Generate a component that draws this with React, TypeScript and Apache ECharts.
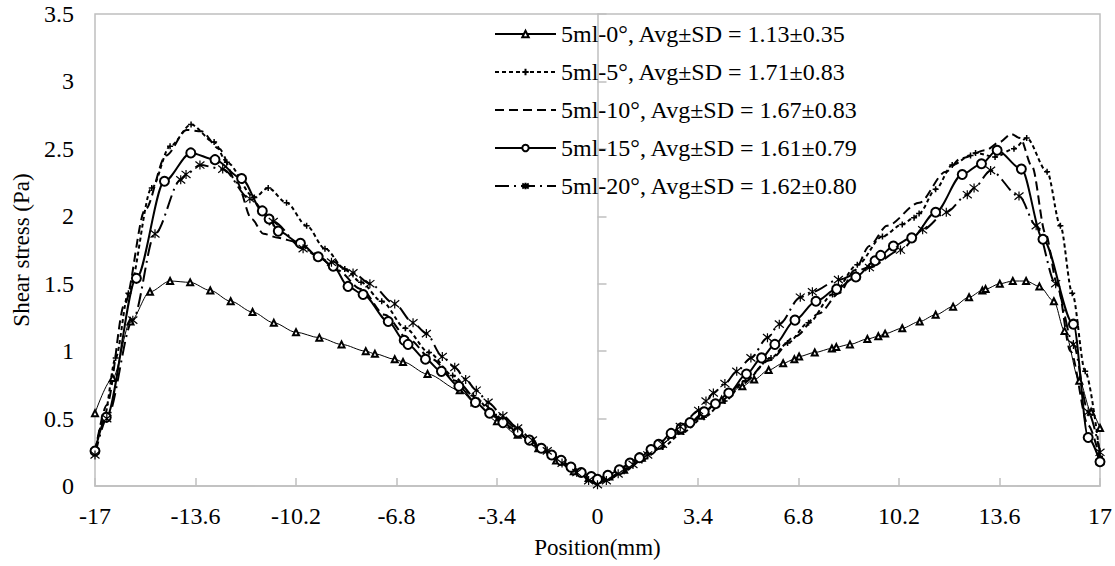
import React, { useEffect, useRef } from "react";
import * as echarts from "echarts";

const SERIES_NAMES = [
  "5ml-0°, Avg±SD = 1.13±0.35",
  "5ml-5°, Avg±SD = 1.71±0.83",
  "5ml-10°, Avg±SD = 1.67±0.83",
  "5ml-15°, Avg±SD = 1.61±0.79",
  "5ml-20°, Avg±SD = 1.62±0.80",
];

const X_TICKS = [-17, -13.6, -10.2, -6.8, -3.4, 0, 3.4, 6.8, 10.2, 13.6, 17];

// 5ml-0°
const X0 = [-17, -16.4, -15.8, -15.14, -14.46, -13.78, -13.1, -12.41, -11.67, -10.95, -10.2, -9.41, -8.66, -7.84, -7.53, -6.86, -6.58, -5.75, -4.66, -4.16, -3.4, -2.7, -2.0, -1.4, -0.8, -0.3, 0, 0.4, 0.9, 1.5, 2.1, 2.8, 3.5, 4.2, 4.9, 5.3, 5.79, 6.28, 6.66, 6.82, 7.35, 7.93, 8.08, 8.54, 9.13, 9.5, 9.73, 10.31, 10.9, 11.44, 12.03, 12.57, 13.02, 13.13, 13.61, 14.05, 14.5, 14.95, 15.44, 15.8, 16.3, 16.7, 17];
const Y0 = [0.54, 0.8, 1.22, 1.44, 1.52, 1.51, 1.45, 1.37, 1.29, 1.21, 1.14, 1.1, 1.05, 1.0, 0.98, 0.94, 0.92, 0.83, 0.71, 0.62, 0.48, 0.38, 0.28, 0.19, 0.11, 0.06, 0.05, 0.07, 0.12, 0.21, 0.3, 0.41, 0.52, 0.64, 0.74, 0.79, 0.86, 0.91, 0.94, 0.96, 0.99, 1.02, 1.03, 1.05, 1.09, 1.11, 1.13, 1.17, 1.22, 1.27, 1.33, 1.4, 1.45, 1.46, 1.5, 1.52, 1.52, 1.48, 1.37, 1.15, 0.78, 0.55, 0.43];

// 5ml-5°
const X5 = [-17, -16.7, -16.3, -15.87, -15.08, -14.46, -13.75, -12.97, -12.54, -11.61, -11.14, -10.52, -9.84, -9.22, -8.55, -8.0, -7.3, -6.5, -5.7, -4.9, -4.2, -3.5, -2.8, -2.1, -1.4, -0.8, -0.3, 0, 0.4, 0.9, 1.5, 2.2, 2.9, 3.6, 4.3, 5.0, 5.87, 6.43, 7.14, 7.95, 8.79, 9.64, 10.31, 10.71, 10.88, 11.44, 12.0, 12.62, 12.79, 13.45, 14.09, 14.52, 15.21, 15.66, 16.06, 16.5, 17];
const Y5 = [0.25, 0.5, 0.95, 1.43, 2.21, 2.52, 2.68, 2.55, 2.4, 2.14, 2.21, 2.1, 1.93, 1.76, 1.61, 1.51, 1.37, 1.17, 0.99, 0.82, 0.67, 0.53, 0.41, 0.3, 0.2, 0.12, 0.06, 0.03, 0.06, 0.11, 0.19, 0.29, 0.4, 0.51, 0.63, 0.78, 0.95, 1.06, 1.21, 1.42, 1.64, 1.85, 1.94, 1.99, 2.02, 2.2, 2.38, 2.45, 2.47, 2.44, 2.5, 2.58, 2.33, 1.93, 1.43, 0.85, 0.22];

// 5ml-10°
const X10 = [-17, -16.6, -16.0, -15.3, -14.6, -13.9, -13.4, -12.8, -12.2, -11.7, -11.3, -10.8, -10.2, -9.5, -8.8, -8.0, -7.2, -6.4, -5.6, -4.8, -4.0, -3.2, -2.4, -1.6, -0.9, -0.3, 0, 0.4, 1.0, 1.7, 2.5, 3.3, 4.1, 4.9, 5.8, 6.7, 7.5, 8.18, 8.7, 9.2, 9.8, 10.88, 11.78, 12.3, 13.13, 13.6, 14.0, 14.3, 14.7, 15.16, 15.55, 16.0, 16.6, 17];
const Y10 = [0.25, 0.6, 1.35, 2.05, 2.45, 2.64, 2.63, 2.5, 2.25, 1.98, 1.87, 1.84, 1.81, 1.71, 1.6, 1.46, 1.27, 1.09, 0.94, 0.78, 0.63, 0.49, 0.36, 0.24, 0.13, 0.05, 0.02, 0.05, 0.13, 0.23, 0.36, 0.49, 0.62, 0.76, 0.93, 1.11, 1.28, 1.43, 1.6, 1.78, 1.93, 2.1, 2.33, 2.43, 2.49, 2.55, 2.61, 2.58, 2.37, 1.87, 1.5, 1.0, 0.45, 0.2];

// 5ml-15°
const X15 = [-17, -16.62, -15.6, -14.65, -13.76, -12.94, -12.04, -11.34, -11.11, -10.8, -10.05, -9.45, -8.94, -8.44, -7.93, -7.08, -6.54, -6.41, -5.82, -5.28, -4.69, -4.13, -3.65, -3.2, -2.69, -2.3, -1.9, -1.55, -1.23, -0.9, -0.55, -0.21, 0, 0.35, 0.74, 1.1, 1.42, 1.81, 2.07, 2.49, 2.83, 3.13, 3.61, 3.99, 4.44, 5.04, 5.55, 6.0, 6.68, 7.39, 8.09, 8.74, 9.39, 9.58, 10.01, 10.63, 11.44, 12.34, 12.99, 13.52, 14.34, 15.07, 16.1, 16.6, 17];
const Y15 = [0.26, 0.51, 1.54, 2.26, 2.47, 2.42, 2.28, 2.04, 1.98, 1.89, 1.8, 1.7, 1.63, 1.48, 1.42, 1.22, 1.08, 1.05, 0.94, 0.85, 0.74, 0.62, 0.54, 0.47, 0.4, 0.34, 0.28, 0.23, 0.19, 0.14, 0.1, 0.07, 0.05, 0.08, 0.12, 0.17, 0.21, 0.27, 0.31, 0.39, 0.43, 0.47, 0.55, 0.61, 0.69, 0.83, 0.95, 1.05, 1.23, 1.37, 1.46, 1.55, 1.67, 1.71, 1.78, 1.84, 2.03, 2.31, 2.39, 2.49, 2.35, 1.83, 1.2, 0.36, 0.18];

// 5ml-20°
const X20 = [-17, -16.6, -15.72, -14.97, -14.1, -13.92, -13.45, -12.68, -11.76, -10.97, -9.96, -9.0, -8.27, -7.7, -6.86, -6.24, -5.79, -5.25, -4.83, -4.46, -4.1, -3.7, -3.2, -2.7, -2.2, -1.7, -1.2, -0.7, -0.3, 0, 0.3, 0.7, 1.2, 1.7, 2.2, 2.8, 3.42, 3.67, 3.92, 4.31, 4.71, 5.19, 5.75, 6.15, 6.86, 7.27, 8.15, 9.2, 10.25, 11.0, 11.8, 12.51, 12.74, 13.3, 14.26, 14.84, 15.5, 16.1, 16.6, 17];
const Y20 = [0.23, 0.5, 1.23, 1.87, 2.27, 2.31, 2.38, 2.35, 2.13, 1.96, 1.76, 1.66, 1.58, 1.5, 1.35, 1.21, 1.13, 0.96, 0.88, 0.79, 0.71, 0.62, 0.52, 0.43, 0.34, 0.26, 0.17, 0.1, 0.04, 0.01, 0.04, 0.09, 0.16, 0.23, 0.31, 0.44, 0.56, 0.63, 0.69, 0.76, 0.85, 0.95, 1.1, 1.2, 1.4, 1.44, 1.53, 1.62, 1.75, 1.9, 2.03, 2.16, 2.21, 2.34, 2.15, 1.93, 1.5, 1.05, 0.55, 0.25];

const FONT = "Liberation Serif";
const AXIS_GRAY = "#bfbfbf";
const PLUS = "path://M0,5L10,5M5,0L5,10";
const ASTER = "path://M5,0L5,10M1,1L9,9M9,1L1,9";

const zip = (xs: number[], ys: number[]) => xs.map((x, i) => [x, ys[i]]);

export default function App() {
  const ref = useRef<HTMLDivElement>(null);
  useEffect(() => {
    if (!ref.current) return;
    const chart = echarts.init(ref.current, null, { renderer: "svg" });
    const base = {
      type: "line",
      smooth: 0.3,
      smoothMonotone: "x",
      showAllSymbol: true,
      z: 2,
    };
    chart.setOption({
      animation: false,
      backgroundColor: "#fff",
      textStyle: { fontFamily: FONT, color: "#000" },
      grid: {
        left: 95,
        right: 12,
        top: 14,
        bottom: 80,
        show: true,
        borderColor: AXIS_GRAY,
        borderWidth: 1.5,
      },
      legend: {
        orient: "vertical",
        left: 489,
        top: 16,
        itemWidth: 61,
        itemHeight: 8,
        itemGap: 12,
        textStyle: { fontFamily: FONT, fontSize: 24, color: "#000", lineHeight: 26 },
        data: [
          { name: SERIES_NAMES[0] },
          { name: SERIES_NAMES[1] },
          {
            name: SERIES_NAMES[2],
            itemStyle: { color: "rgba(0,0,0,0)", borderColor: "rgba(0,0,0,0)", borderWidth: 0 },
          },
          { name: SERIES_NAMES[3] },
          { name: SERIES_NAMES[4] },
        ],
      },
      xAxis: {
        type: "value",
        min: -17,
        max: 17,
        interval: 3.4,
        name: "Position(mm)",
        nameLocation: "middle",
        nameGap: 50,
        nameTextStyle: { fontFamily: FONT, fontSize: 23, color: "#000" },
        axisLine: { show: true, lineStyle: { color: AXIS_GRAY, width: 1.5 } },
        axisTick: { show: true, inside: true, length: 8, lineStyle: { color: AXIS_GRAY, width: 1.5 } },
        splitLine: { show: false },
        axisLabel: {
          margin: 18,
          fontFamily: FONT,
          fontSize: 24,
          color: "#000",
          showMaxLabel: true,
          showMinLabel: true,
          formatter: (v: number) => {
            const r = Math.round(v * 10) / 10;
            const t = X_TICKS.find((k) => Math.abs(k - r) < 1e-6);
            return String(t !== undefined ? t : r);
          },
        },
      },
      yAxis: {
        type: "value",
        min: 0,
        max: 3.5,
        interval: 0.5,
        name: "Shear stress (Pa)",
        nameLocation: "middle",
        nameGap: 57,
        nameTextStyle: { fontFamily: FONT, fontSize: 23, color: "#000" },
        axisLine: { show: true, lineStyle: { color: AXIS_GRAY, width: 1.5 } },
        axisTick: { show: true, inside: true, length: 9, lineStyle: { color: AXIS_GRAY, width: 1.5 } },
        splitLine: { show: false },
        axisLabel: { margin: 21, fontFamily: FONT, fontSize: 24, color: "#000" },
      },
      series: [
        {
          ...base,
          name: SERIES_NAMES[0],
          data: zip(X0, Y0),
          symbol: "emptyTriangle",
          symbolSize: 6,
          lineStyle: { color: "#000", width: 1 },
          itemStyle: { color: "#000", borderColor: "#000", borderWidth: 1 },
        },
        {
          ...base,
          name: SERIES_NAMES[1],
          data: zip(X5, Y5),
          symbol: PLUS,
          symbolSize: 6,
          lineStyle: { color: "#000", width: 2, type: [4, 3] },
          itemStyle: { color: "#000", borderColor: "#000", borderWidth: 1.5 },
        },
        {
          ...base,
          name: SERIES_NAMES[2],
          data: zip(X10, Y10),
          symbol: "none",
          lineStyle: { color: "#000", width: 2, type: [9, 5] },
          itemStyle: { color: "#000" },
        },
        {
          ...base,
          name: SERIES_NAMES[3],
          data: zip(X15, Y15),
          symbol: "emptyCircle",
          symbolSize: 9,
          lineStyle: { color: "#000", width: 2 },
          itemStyle: { color: "#000", borderColor: "#000", borderWidth: 1.5 },
        },
        {
          ...base,
          name: SERIES_NAMES[4],
          data: zip(X20, Y20),
          symbol: ASTER,
          symbolSize: 9,
          lineStyle: { color: "#000", width: 2, type: [14, 5, 2, 5] },
          itemStyle: { color: "#000", borderColor: "#000", borderWidth: 1.2 },
        },
      ],
    });
    return () => chart.dispose();
  }, []);
  return (
    <div
      ref={ref}
      style={{ position: "fixed", left: 0, top: 0, width: 1115, height: 566 }}
    />
  );
}
